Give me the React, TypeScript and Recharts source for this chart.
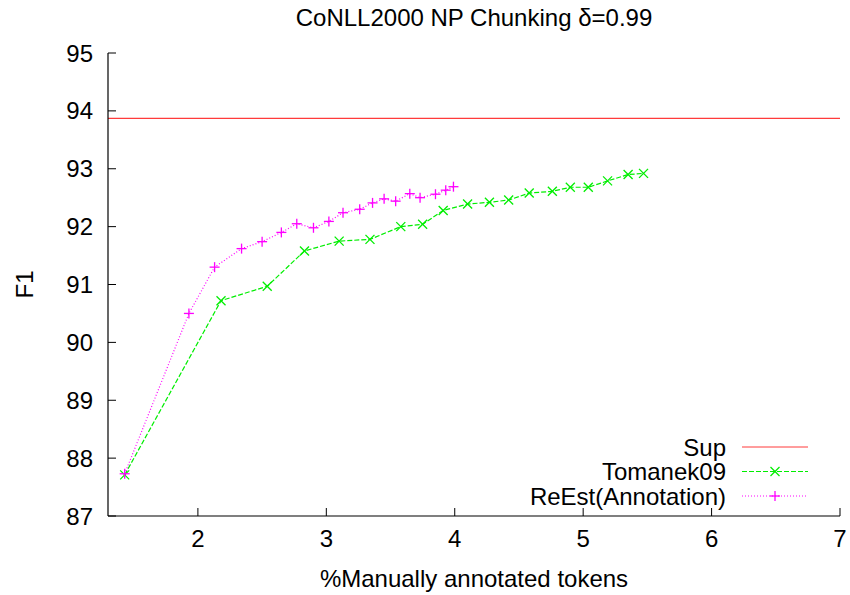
import React from 'react';
import {
  LineChart,
  Line,
  XAxis,
  YAxis,
  ReferenceLine,
  Legend,
} from 'recharts';

// values
const TOMANEK_X = [1.43, 2.18, 2.54, 2.83, 3.1, 3.34, 3.58, 3.75, 3.91, 4.1, 4.27, 4.42, 4.58, 4.76, 4.9, 5.04, 5.19, 5.35, 5.47];
const TOMANEK_F1 = [87.71, 90.72, 90.97, 91.58, 91.75, 91.78, 92.0, 92.04, 92.28, 92.39, 92.42, 92.46, 92.58, 92.61, 92.68, 92.68, 92.79, 92.9, 92.92];

const REEST_X = [1.43, 1.93, 2.13, 2.34, 2.5, 2.65, 2.77, 2.9, 3.02, 3.13, 3.26, 3.36, 3.45, 3.54, 3.65, 3.73, 3.85, 3.93, 3.99];
const REEST_F1 = [87.73, 90.5, 91.3, 91.62, 91.74, 91.9, 92.05, 91.98, 92.09, 92.24, 92.3, 92.41, 92.48, 92.44, 92.57, 92.5, 92.56, 92.63, 92.69];

const SUP_F1 = 93.87;

const X_TICKS = [2, 3, 4, 5, 6, 7];
const Y_TICKS = [87, 88, 89, 90, 91, 92, 93, 94, 95];

const LEGEND_ITEMS = [
  { name: 'Sup', color: '#ff3b3b', dash: undefined, marker: 'none' },
  { name: 'Tomanek09', color: '#00ee00', dash: '5 2', marker: 'cross' },
  { name: 'ReEst(Annotation)', color: '#ff00ff', dash: '1 2', marker: 'plus' },
];

const FONT = "'Liberation Sans', Arial, Helvetica, sans-serif";
const FONT_SIZE = 24;
const TICK_LEN = 8;

const tomanekData = TOMANEK_X.map((x, i) => ({ x, f1: TOMANEK_F1[i] }));
const reestData = REEST_X.map((x, i) => ({ x, f1: REEST_F1[i] }));

function Marker({ cx, cy, kind, color }: any) {
  if (cx == null || cy == null) return null;
  if (kind === 'cross') {
    const s = 4.5;
    return (
      <g stroke={color} strokeWidth={1.3}>
        <line x1={cx - s} y1={cy - s} x2={cx + s} y2={cy + s} />
        <line x1={cx - s} y1={cy + s} x2={cx + s} y2={cy - s} />
      </g>
    );
  }
  if (kind === 'plus') {
    const s = 5;
    return (
      <g stroke={color} strokeWidth={1.3}>
        <line x1={cx - s} y1={cy} x2={cx + s} y2={cy} />
        <line x1={cx} y1={cy - s} x2={cx} y2={cy + s} />
      </g>
    );
  }
  return null;
}

// bottom axis: inward tick mark + label below
const BottomTick = ({ x, y, payload }: any) => (
  <g>
    <line x1={x} y1={y} x2={x} y2={y - TICK_LEN} stroke="#000" strokeWidth={1} />
    <text x={x} y={y + 22} textAnchor="middle" dominantBaseline="central" fontFamily={FONT} fontSize={FONT_SIZE} fill="#000">
      {payload.value}
    </text>
  </g>
);

const TopTick = ({ x, y }: any) => (
  <line x1={x} y1={y} x2={x} y2={y + TICK_LEN} stroke="#000" strokeWidth={1} />
);

const LeftTick = ({ x, y, payload }: any) => (
  <g>
    <line x1={x} y1={y} x2={x + TICK_LEN} y2={y} stroke="#000" strokeWidth={1} />
    <text x={x - 15} y={y} textAnchor="end" dominantBaseline="central" fontFamily={FONT} fontSize={FONT_SIZE} fill="#000">
      {payload.value}
    </text>
  </g>
);

const RightTick = ({ x, y }: any) => (
  <line x1={x} y1={y} x2={x - TICK_LEN} y2={y} stroke="#000" strokeWidth={1} />
);

function LegendBox() {
  return (
    <svg width={300} height={80} style={{ overflow: 'visible' }}>
      {LEGEND_ITEMS.map((item, i) => {
        const y = 17 + i * 24.5;
        return (
          <g key={item.name}>
            <text x={216} y={y} textAnchor="end" dominantBaseline="central" fontFamily={FONT} fontSize={FONT_SIZE} fill="#000">
              {item.name}
            </text>
            <line x1={232} y1={y} x2={298} y2={y} stroke={item.color} strokeWidth={1} strokeDasharray={item.dash} />
            <Marker cx={265} cy={y} kind={item.marker} color={item.color} />
          </g>
        );
      })}
    </svg>
  );
}

export default function App() {
  return (
    <div style={{ position: 'absolute', left: 0, top: 0, width: 850, height: 595, background: '#fff', fontFamily: FONT }}>
      <div style={{ position: 'absolute', left: 108, width: 732, top: 4, textAlign: 'center', fontSize: FONT_SIZE, lineHeight: '28px', color: '#000' }}>
        CoNLL2000 NP Chunking δ=0.99
      </div>
      <LineChart width={850} height={595} margin={{ top: 53, right: 10, bottom: 0, left: 0 }}>
        <XAxis
          xAxisId="b"
          dataKey="x"
          type="number"
          domain={[1.3, 7]}
          ticks={X_TICKS}
          allowDataOverflow
          height={79}
          tickSize={0}
          tickMargin={0}
          tickLine={false}
          axisLine={{ stroke: '#000', strokeWidth: 1.2 }}
          tick={<BottomTick />}
          label={{
            content: ({ viewBox }: any) => (
              <text x={viewBox.x + viewBox.width / 2} y={578} textAnchor="middle" dominantBaseline="central" fontFamily={FONT} fontSize={FONT_SIZE} fill="#000">
                %Manually annotated tokens
              </text>
            ),
          }}
        />
        <XAxis
          xAxisId="t"
          orientation="top"
          dataKey="x"
          type="number"
          domain={[1.3, 7]}
          ticks={X_TICKS}
          allowDataOverflow
          height={0}
          tickSize={0}
          tickMargin={0}
          tickLine={false}
          axisLine={{ stroke: '#000', strokeWidth: 1.2 }}
          tick={<TopTick />}
        />
        <YAxis
          yAxisId="l"
          type="number"
          domain={[87, 95]}
          ticks={Y_TICKS}
          allowDataOverflow
          width={108}
          tickSize={0}
          tickMargin={0}
          tickLine={false}
          axisLine={{ stroke: '#000', strokeWidth: 1.2 }}
          tick={<LeftTick />}
          label={{
            content: ({ viewBox }: any) => {
              const cy = viewBox.y + viewBox.height / 2;
              return (
                <text x={24} y={cy} transform={`rotate(-90, 24, ${cy})`} textAnchor="middle" dominantBaseline="central" fontFamily={FONT} fontSize={FONT_SIZE} fill="#000">
                  F1
                </text>
              );
            },
          }}
        />
        <YAxis
          yAxisId="r"
          orientation="right"
          type="number"
          domain={[87, 95]}
          ticks={Y_TICKS}
          allowDataOverflow
          width={0}
          tickSize={0}
          tickMargin={0}
          tickLine={false}
          axisLine={{ stroke: '#000', strokeWidth: 1.2 }}
          tick={<RightTick />}
        />
        <ReferenceLine xAxisId="b" yAxisId="l" y={SUP_F1} stroke="#ff3b3b" strokeWidth={1.2} />
        <Line
          xAxisId="b"
          yAxisId="l"
          data={tomanekData}
          dataKey="f1"
          name="Tomanek09"
          type="linear"
          stroke="#00ee00"
          strokeWidth={1.2}
          strokeDasharray="5 2"
          isAnimationActive={false}
          dot={(p: any) => <Marker key={`t-${p.index}`} cx={p.cx} cy={p.cy} kind="cross" color="#00ee00" />}
          activeDot={false}
        />
        <Line
          xAxisId="b"
          yAxisId="l"
          data={reestData}
          dataKey="f1"
          name="ReEst(Annotation)"
          type="linear"
          stroke="#ff00ff"
          strokeWidth={1.2}
          strokeDasharray="1 2"
          isAnimationActive={false}
          dot={(p: any) => <Marker key={`r-${p.index}`} cx={p.cx} cy={p.cy} kind="plus" color="#ff00ff" />}
          activeDot={false}
        />
        <Legend
          layout="horizontal"
          verticalAlign="middle"
          align="center"
          wrapperStyle={{ left: 510, top: 430, width: 300, height: 80 }}
          content={() => <LegendBox />}
        />
      </LineChart>
    </div>
  );
}
